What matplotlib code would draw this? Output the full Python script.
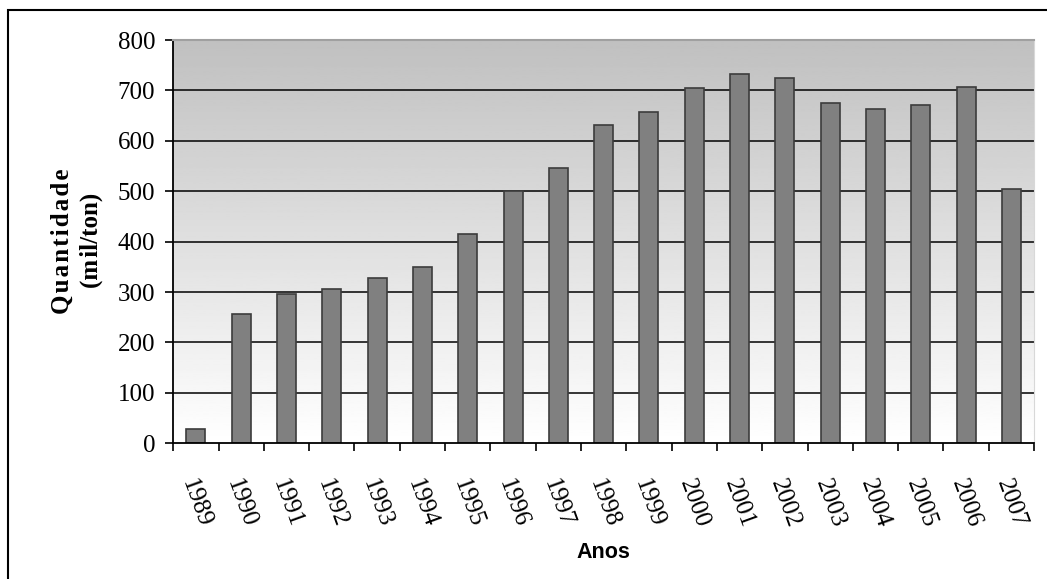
import matplotlib.pyplot as plt
import numpy as np
from matplotlib.patches import Rectangle

anos = ['1989', '1990', '1991', '1992', '1993', '1994', '1995', '1996', '1997', '1998',
        '1999', '2000', '2001', '2002', '2003', '2004', '2005', '2006', '2007']
quantidade = [28, 256, 296, 306, 328, 350, 415, 500, 547, 632,
              657, 704, 732, 725, 675, 664, 671, 707, 504]

serif = ['Liberation Serif', 'DejaVu Serif']
sans = ['Liberation Sans', 'DejaVu Sans']

fig = plt.figure(figsize=(10.47, 5.79), dpi=100)
ax = fig.add_axes([0.1655, 0.2344, 0.8221, 0.6965])

x = np.arange(len(anos))
n = len(anos)

# gradient background: white at the bottom fading to grey at the top
grad = np.linspace(255, 192, 256).reshape(-1, 1) / 255.0
ax.imshow(grad, cmap='gray', vmin=0, vmax=1, aspect='auto', origin='lower',
          extent=[-0.5, n - 0.5, 0, 800], zorder=0)
ax.set_xlim(-0.5, n - 0.5)
ax.set_ylim(0, 800)

ax.set_yticks(np.arange(0, 900, 100))
for v in range(100, 800, 100):
    ax.axhline(v, color='black', lw=1.1, zorder=1)

ax.bar(x, quantidade, width=0.42, color='#808080', edgecolor='#3c3c3c',
       linewidth=1.2, zorder=2)

# ticks between the categories, labels at the centers
ax.set_xticks(np.arange(-0.5, n, 1))
ax.set_xticklabels([])
ax.set_xticks(x, minor=True)
ax.set_xticklabels(anos, minor=True, rotation=-70, ha='center', va='top',
                   fontsize=18, family=serif)
ax.tick_params(axis='x', which='major', length=6, width=1.2, direction='out')
ax.tick_params(axis='x', which='minor', length=0, pad=24)
ax.tick_params(axis='y', length=6, width=1.2, pad=7, labelsize=18)
for lab in ax.get_yticklabels():
    lab.set_family(serif)

ax.spines['left'].set_linewidth(1.3)
ax.spines['bottom'].set_linewidth(1.3)
ax.spines['top'].set_color('#a0a0a0')
ax.spines['right'].set_color('#d8d8d8')
ax.spines['top'].set_linewidth(1.5)

hair = '\u200a'
fig.text(0.0735, 0.584, hair.join('Quantidade') + '\n(m' + hair + 'il/ton)',
         rotation=90, ha='center', va='center', multialignment='center',
         fontsize=18, fontweight='bold', family=serif, linespacing=1.35)
fig.text(0.576, 0.045, 'Anos', ha='center', va='center', fontsize=15.5,
         fontweight='bold', family=sans)

# outer frame of the chart
fig.patches.append(Rectangle((8 / 1047, -0.1), 1.2, 1 - 10 / 579 + 0.1,
                             transform=fig.transFigure, fill=False,
                             edgecolor='black', lw=1.5))

fig.savefig('out.png', dpi=100)
